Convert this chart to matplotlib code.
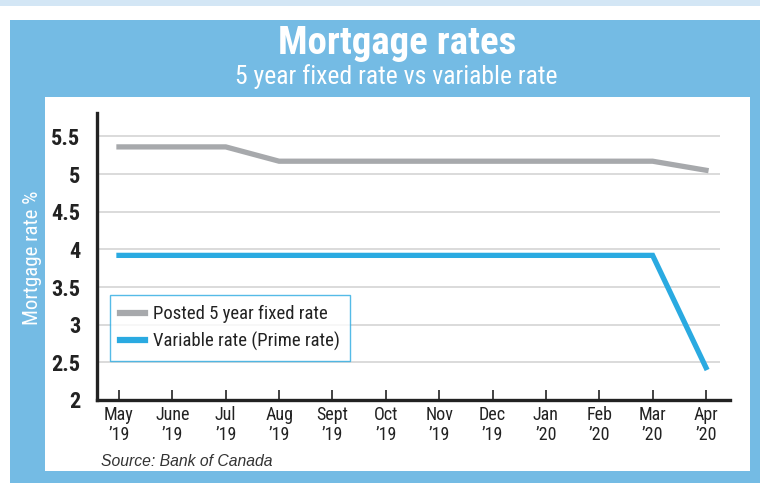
import matplotlib
matplotlib.use("Agg")
import matplotlib.pyplot as plt
from matplotlib import font_manager as fm
from matplotlib.patches import Rectangle

months = ["May", "June", "Jul", "Aug", "Sept", "Oct", "Nov", "Dec", "Jan", "Feb", "Mar", "Apr"]
years = ["\u201919", "\u201919", "\u201919", "\u201919", "\u201919", "\u201919", "\u201919", "\u201919",
         "\u201920", "\u201920", "\u201920", "\u201920"]
fixed_rate = [5.36, 5.36, 5.36, 5.17, 5.17, 5.17, 5.17, 5.17, 5.17, 5.17, 5.17, 5.05]
variable_rate = [3.92, 3.92, 3.92, 3.92, 3.92, 3.92, 3.92, 3.92, 3.92, 3.92, 3.92, 2.43]
yticks = [2, 2.5, 3, 3.5, 4, 4.5, 5, 5.5]
ytick_labels = ["2", "2.5", "3", "3.5", "4", "4.5", "5", "5.5"]

names = {f.name for f in fm.fontManager.ttflist}
narrow = "Roboto"
for cand in ["Roboto Condensed", "Liberation Sans Narrow", "Open Sans Condensed", "Roboto"]:
    if cand in names:
        narrow = cand
        break

BLUE_BG = "#74bbe4"
LINE_BLUE = "#2aaae1"
GRAY = "#a7a9ac"

W, H = 760, 491
fig = plt.figure(figsize=(W / 100, H / 100), dpi=100)

def px(x, y):
    return x / W, 1 - y / H

# backgrounds
fig.patches.append(Rectangle((0, 1 - 6 / H), 1, 6 / H, transform=fig.transFigure,
                             facecolor="#d3e6f5", edgecolor="none", zorder=-10))
fig.patches.append(Rectangle((10 / W, 1 - 483 / H), 750 / W, 463 / H, transform=fig.transFigure,
                             facecolor=BLUE_BG, edgecolor="none", zorder=-10))
fig.patches.append(Rectangle((45 / W, 1 - 471 / H), 705 / W, 374 / H, transform=fig.transFigure,
                             facecolor="white", edgecolor="none", zorder=-9))

fig.text(*px(397, 44), "Mortgage rates", ha="center", va="center", color="white",
         fontsize=28, fontweight="bold", family=narrow)
fig.text(*px(396, 77), "5 year fixed rate vs variable rate", ha="center", va="center",
         color="white", fontsize=18.5, family=narrow)
fig.text(*px(33, 258), "Mortgage rate %", ha="center", va="center", rotation=90,
         color="white", fontsize=15, family=narrow)
fig.text(*px(101, 461), "Source: Bank of Canada", ha="left", va="center",
         color="#333333", fontsize=11.3, style="italic", family="Liberation Sans")

ax = fig.add_axes([97 / W, (H - 400) / H, 633 / W, 287 / H])
ax.set_facecolor("none")
ax.set_zorder(5)
x = list(range(len(months)))
xl0 = -0.412
xl1 = 11.45
ax.set_xlim(xl0, xl1)
ax.set_ylim(2, 5.81)

for yv in yticks[1:]:
    ax.plot([xl0, 11.26], [yv, yv], color="#d4d4d4", lw=1.2, zorder=1, solid_capstyle="butt")

ax.plot(x, fixed_rate, color=GRAY, lw=3.8, label="Posted 5 year fixed rate", zorder=3,
        solid_joinstyle="miter")
ax.plot(x, variable_rate, color=LINE_BLUE, lw=3.8, label="Variable rate (Prime rate)", zorder=3,
        solid_joinstyle="miter")

for s in ["top", "right"]:
    ax.spines[s].set_visible(False)
for s in ["left", "bottom"]:
    ax.spines[s].set_linewidth(2.4)
    ax.spines[s].set_color("#222222")

ax.set_yticks(yticks)
ax.set_yticklabels(ytick_labels, fontsize=16, fontweight="heavy", family=narrow, color="#222222")
ax.tick_params(axis="y", length=0, pad=12)
ax.set_xticks(x)
ax.set_xticklabels([f"{m}\n{y}" for m, y in zip(months, years)], fontsize=13,
                   family=narrow, color="#222222", linespacing=1.15)
ax.tick_params(axis="x", direction="in", length=7, width=1.2, color="#222222", pad=4)

leg = ax.legend(loc="upper left", bbox_to_anchor=((110 - 97) / 633, (400 - 295) / 287),
                frameon=True, fancybox=False, edgecolor=LINE_BLUE,
                prop={"family": narrow, "size": 13.5}, handlelength=1.3, handletextpad=0.45,
                borderpad=0.55, borderaxespad=0, labelspacing=0.45)
leg.get_frame().set_linewidth(1.0)
for t in leg.get_texts():
    t.set_color("#222222")
for h in leg.get_lines():
    h.set_linewidth(4.5)

fig.savefig("out.png", dpi=100)
